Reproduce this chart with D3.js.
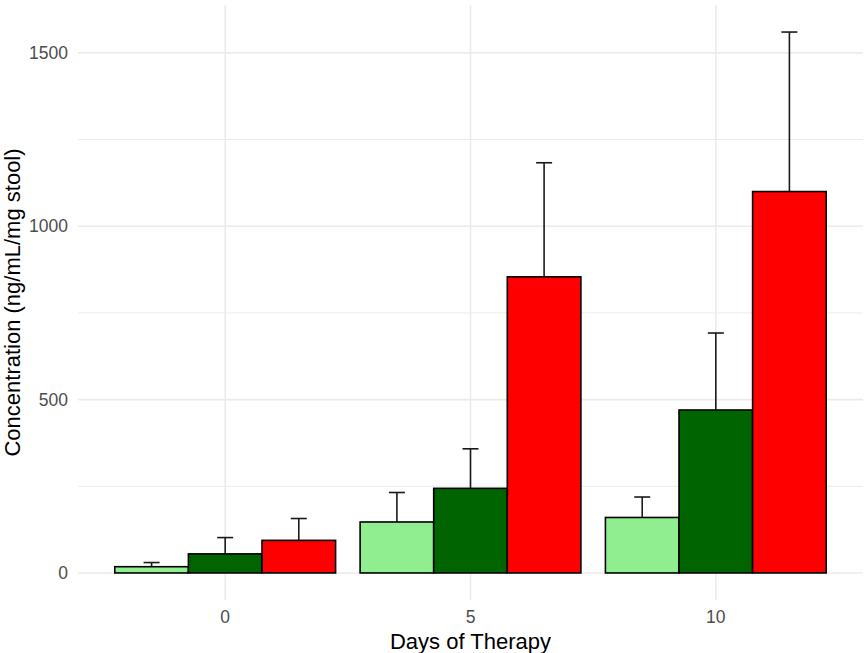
<!DOCTYPE html>
<html>
<head>
<meta charset="utf-8">
<script src="https://cdn.jsdelivr.net/npm/d3@7"></script>
<style>
  body { margin: 0; background: #fff; }
  text { font-family: "Liberation Sans", Arial, sans-serif; }
</style>
</head>
<body>
<div id="chart"></div>
<script>
// data
const days = ['0', '5', '10'];
const groups = ['low', 'mid', 'high'];
const groupColors = ['#90ee90', '#006400', '#ff0000'];
const meanLow = [18, 147, 160];
const meanMid = [55, 244, 470];
const meanHigh = [94, 854, 1100];
const seLow = [12, 85, 59];
const seMid = [47, 114, 222];
const seHigh = [63, 329, 460];
const yTicks = [0, 500, 1000, 1500];
const yMinor = [250, 750, 1250];

const width = 866;
const height = 653;
const panel = { l: 78, r: 863, t: 5, b: 600 };

const means = [meanLow, meanMid, meanHigh];
const ses = [seLow, seMid, seHigh];
const rows = [];
days.forEach((day, i) => {
  groups.forEach((g, j) => {
    rows.push({ day, group: g, mean: means[j][i], se: ses[j][i], color: groupColors[j] });
  });
});

const svg = d3
  .select('#chart')
  .append('svg')
  .attr('width', width)
  .attr('height', height);

// y: ggplot style 5% expansion
const yMax = d3.max(rows, (d) => d.mean + d.se);
const yScale = d3
  .scaleLinear()
  .domain([-0.05 * yMax, yMax * 1.05])
  .range([panel.b, panel.t]);

const xScale = d3.scalePoint().domain(days).range([panel.l, panel.r]).padding(0.6);
const groupWidth = xScale.step() * 0.9;
const xInner = d3.scaleBand().domain(groups).range([-groupWidth / 2, groupWidth / 2]);

// grid
const grid = svg.append('g');
grid
  .selectAll('.minor')
  .data(yMinor)
  .join('line')
  .attr('x1', panel.l)
  .attr('x2', panel.r)
  .attr('y1', (d) => yScale(d))
  .attr('y2', (d) => yScale(d))
  .attr('stroke', '#ebebeb')
  .attr('stroke-width', 1);
grid
  .selectAll('.major')
  .data(yTicks)
  .join('line')
  .attr('x1', panel.l)
  .attr('x2', panel.r)
  .attr('y1', (d) => yScale(d))
  .attr('y2', (d) => yScale(d))
  .attr('stroke', '#ebebeb')
  .attr('stroke-width', 1.6);
grid
  .selectAll('.vert')
  .data(days)
  .join('line')
  .attr('x1', (d) => xScale(d))
  .attr('x2', (d) => xScale(d))
  .attr('y1', panel.t)
  .attr('y2', panel.b)
  .attr('stroke', '#ebebeb')
  .attr('stroke-width', 1.6);

// error bars (upper only), drawn under bars
const eb = svg.append('g').attr('stroke', '#1a1a1a').attr('stroke-width', 1.6);
rows.forEach((d) => {
  const cx = xScale(d.day) + xInner(d.group) + xInner.bandwidth() / 2;
  const top = yScale(d.mean + d.se);
  eb.append('line').attr('x1', cx).attr('x2', cx).attr('y1', yScale(d.mean)).attr('y2', top);
  eb.append('line').attr('x1', cx - 8).attr('x2', cx + 8).attr('y1', top).attr('y2', top);
});

// bars
svg
  .append('g')
  .selectAll('rect')
  .data(rows)
  .join('rect')
  .attr('x', (d) => xScale(d.day) + xInner(d.group))
  .attr('width', xInner.bandwidth())
  .attr('y', (d) => yScale(d.mean))
  .attr('height', (d) => yScale(0) - yScale(d.mean))
  .attr('fill', (d) => d.color)
  .attr('stroke', '#000')
  .attr('stroke-width', 1.6);

// axis labels
svg
  .append('g')
  .selectAll('text')
  .data(yTicks)
  .join('text')
  .attr('x', 68)
  .attr('y', (d) => yScale(d))
  .attr('dy', '0.35em')
  .attr('text-anchor', 'end')
  .attr('font-size', 17.5)
  .attr('fill', '#4d4d4d')
  .text((d) => d);

svg
  .append('g')
  .selectAll('text')
  .data(days)
  .join('text')
  .attr('x', (d) => xScale(d))
  .attr('y', 623)
  .attr('text-anchor', 'middle')
  .attr('font-size', 17.5)
  .attr('fill', '#4d4d4d')
  .text((d) => d);

// x-axis name
svg
  .append('text')
  .attr('x', (panel.l + panel.r) / 2)
  .attr('y', 649)
  .attr('text-anchor', 'middle')
  .attr('font-size', 22)
  .attr('fill', '#000')
  .text('Days of Therapy');
// y-axis name
svg
  .append('text')
  .attr('transform', `translate(20, ${(panel.t + panel.b) / 2}) rotate(-90)`)
  .attr('text-anchor', 'middle')
  .attr('font-size', 22)
  .attr('fill', '#000')
  .text('Concentration (ng/mL/mg stool)');
</script>
</body>
</html>
